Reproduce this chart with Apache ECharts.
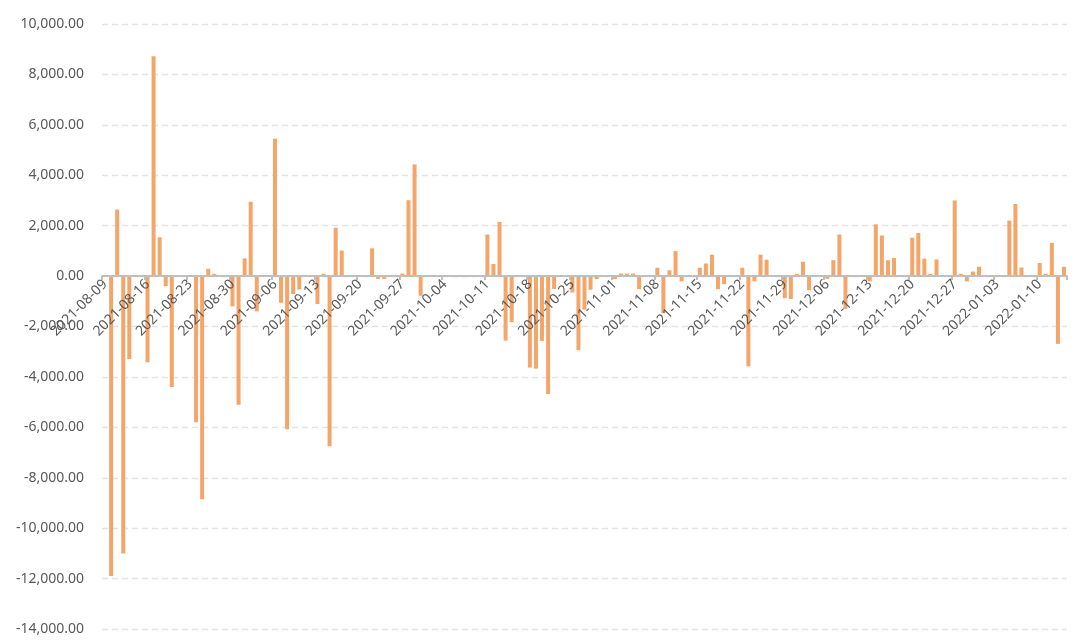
<!DOCTYPE html>
<html>
<head>
<meta charset="utf-8">
<script src="https://cdn.jsdelivr.net/npm/echarts@6/dist/echarts.min.js"></script>
<style>
  html, body { margin: 0; padding: 0; background: #ffffff; }
  #chart { width: 1080px; height: 642px; }
</style>
</head>
<body>
<div id="chart"></div>
<script>
// ---- data ----
const firstDay = '2021-08-09';   // first category (a Monday)
const dayCount = 159;            // calendar days shown (to 2022-01-14)
// Mon..Fri values for each week starting on the Monday; null = no bar
const weekMondays = ['2021-08-09','2021-08-16','2021-08-23','2021-08-30','2021-09-06','2021-09-13','2021-09-20','2021-09-27','2021-10-04','2021-10-11','2021-10-18','2021-10-25','2021-11-01','2021-11-08','2021-11-15','2021-11-22','2021-11-29','2021-12-06','2021-12-13','2021-12-20','2021-12-27','2022-01-03','2022-01-10'];
const weeklyValues = [
  [null, -11900, 2640, -11000, -3290],
  [-3420, 8720, 1540, -400, -4400],
  [null, -5800, -8850, 290, 90],
  [-1200, -5100, 700, 2950, -1400],
  [5450, -1060, -6080, -710, -530],
  [-1110, 90, -6750, 1920, 1010],
  [null, null, 1100, -110, -110],
  [100, 3010, 4430, -780, null],
  [null, null, null, null, null],
  [1650, 480, 2150, -2560, -1830],
  [-3630, -3670, -2570, -4680, -510],
  [-650, -2940, -1330, -540, -120],
  [-120, 100, 100, 100, -520],
  [330, -1470, 230, 990, -210],
  [330, 500, 850, -520, -320],
  [330, -3580, -210, 850, 650],
  [-880, -910, 90, 570, -560],
  [-110, 630, 1650, -1300, null],
  [-210, 2050, 1610, 630, 720],
  [1520, 1710, 690, 90, 660],
  [3000, 90, -210, 180, 370],
  [null, null, 2200, 2860, 340],
  [520, 90, 1320, -2690, 370]
];
const yMin = -14000, yMax = 10000, yStep = 2000;

// ---- build categories / series ----
function pad(n) { return (n < 10 ? '0' : '') + n; }
const start = new Date(firstDay + 'T00:00:00Z');
const categories = [];
for (let i = 0; i < dayCount; i++) {
  const d = new Date(start.getTime() + i * 86400000);
  categories.push(d.getUTCFullYear() + '-' + pad(d.getUTCMonth() + 1) + '-' + pad(d.getUTCDate()));
}
const values = [];
weeklyValues.forEach(w => { w.forEach(v => values.push(v)); values.push(null, null); });
values.length = dayCount;

function fmt(v) {
  const neg = v < 0; const a = Math.abs(v);
  const s = a.toFixed(2).split('.');
  s[0] = s[0].replace(/\B(?=(\d{3})+(?!\d))/g, ',');
  return (neg ? '-' : '') + s[0] + '.' + s[1];
}

const gridTop = 24, gridBottom = 13, H = 642;
const gridH = H - gridTop - gridBottom;
const zeroOffset = -gridH * (0 - yMin) / (yMax - yMin);

const chart = echarts.init(document.getElementById('chart'), null, { renderer: 'canvas' });
chart.setOption({
  animation: false,
  backgroundColor: '#ffffff',
  grid: { left: 102, right: 13, top: gridTop, bottom: gridBottom, containLabel: false, outerBoundsMode: 'none' },
  xAxis: {
    type: 'category',
    data: categories,
    boundaryGap: true,
    position: 'bottom',
    offset: zeroOffset,
    z: 5,
    axisLine: { onZero: false, lineStyle: { color: '#bfbfbf', width: 2 } },
    axisTick: { show: true, interval: 6, length: 4, lineStyle: { color: '#bfbfbf', width: 2 } },
    axisLabel: {
      interval: 6, rotate: 45, margin: 6, hideOverlap: false,
      color: '#595959', fontFamily: 'Noto Sans', fontSize: 14
    },
    splitLine: { show: false }
  },
  yAxis: {
    type: 'value',
    min: yMin, max: yMax, interval: yStep,
    axisLine: { show: false },
    axisTick: { show: false },
    axisLabel: {
      margin: 18, color: '#595959', fontFamily: 'Noto Sans', fontSize: 14,
      formatter: fmt
    },
    splitLine: { show: true, lineStyle: { color: '#e3e3e3', width: 1.3, type: [6, 4] } }
  },
  series: [{
    type: 'bar',
    data: values,
    barWidth: 4,
    z: 2,
    itemStyle: { color: '#F4A56A' }
  }]
});
</script>
</body>
</html>
